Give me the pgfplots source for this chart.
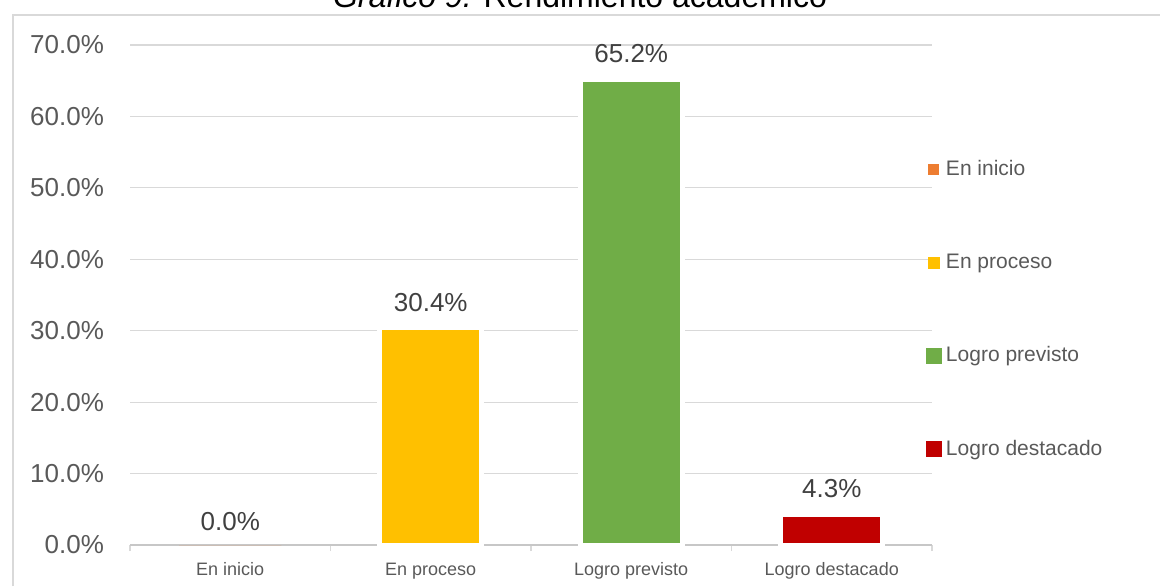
\documentclass[border=0pt]{standalone}
\usepackage{fontspec}
\setmainfont{Liberation Sans}
\usepackage{pgfplots}
\pgfplotsset{compat=1.18}
\definecolor{cOrange}{HTML}{ED7D31}
\definecolor{cYellow}{HTML}{FFC000}
\definecolor{cGreen}{HTML}{70AD47}
\definecolor{cRed}{HTML}{C00000}
\definecolor{tickc}{HTML}{595959}
\definecolor{labc}{HTML}{404040}
\definecolor{gridc}{HTML}{D9D9D9}
\begin{document}
\begin{tikzpicture}
\draw[gridc, line width=0.75pt] (6.5pt,0pt) -- (6.5pt,285.5pt) -- (580pt,285.5pt);
\node[anchor=base, font=\fontsize{16}{19}\selectfont, text=black] at (290pt,289.5pt) {\textit{Gráfico 9.} Rendimiento académico};
\begin{axis}[at={(65pt,20.5pt)}, anchor=south west, scale only axis,
  width=401pt, height=250pt,
  xmin=-0.5, xmax=3.5, ymin=0, ymax=70,
  axis x line=bottom, axis y line=left, axis line style={-},
  x axis line style={draw=gridc!80!gray, line width=0.6pt},
  y axis line style={draw=none},
  ymajorgrids, grid style={gridc, line width=0.6pt},
  ytick={0,10,...,70}, ytick style={draw=none},
  /pgf/number format/assume math mode=true,
  yticklabel={\pgfmathprintnumber[fixed,fixed zerofill,precision=1]{\tick}\%},
  yticklabel style={font=\fontsize{13}{15}\selectfont, text=tickc, xshift=-6.5pt},
  xtick={-0.5,0.5,1.5,2.5,3.5}, xticklabels={},
  xtick style={draw=gridc, line width=0.6pt},
  tick align=outside, major tick length=3pt,
  extra x ticks={0,1,2,3},
  extra x tick labels={En inicio, En proceso, Logro previsto, Logro destacado},
  extra x tick style={major tick length=0pt,
    xticklabel style={font=\fontsize{9}{11}\selectfont, text=tickc, yshift=-5pt,
      text height=6.8pt, text depth=1.9pt}},
  ybar, bar shift=0pt, bar width=0.51,
  nodes near coords={\pgfmathprintnumber[fixed,fixed zerofill,precision=1]{\pgfplotspointmeta}\%},
  nodes near coords style={font=\fontsize{13}{15}\selectfont, text=labc, yshift=3.7pt},
  legend style={at={(rel axis cs:0.992,0.778)}, anchor=north west, draw=none,
    fill=none, inner sep=0pt, row sep=33.6pt,
    font=\fontsize{10.5}{12.5}\selectfont, text=tickc},
  legend cell align=left,
]
\addplot[fill=cOrange, draw=none,
  legend image code/.code={\fill[cOrange] (0pt,-2.75pt) rectangle (5.5pt,2.75pt);}]
  coordinates {(0,0.0)};
\addlegendentry{En inicio}
\addplot[fill=cYellow, draw=white, line width=2.5pt,
  legend image code/.code={\fill[cYellow] (1pt,-1.75pt) rectangle (4.5pt,1.75pt);}]
  coordinates {(1,30.4)};
\addlegendentry{En proceso}
\addplot[fill=cGreen, draw=white, line width=2.5pt,
  legend image code/.code={\fill[cGreen] (0pt,-2.75pt) rectangle (5.5pt,2.75pt);}]
  coordinates {(2,65.2)};
\addlegendentry{Logro previsto}
\addplot[fill=cRed, draw=white, line width=2.5pt,
  legend image code/.code={\fill[cRed] (0pt,-2.75pt) rectangle (5.5pt,2.75pt);}]
  coordinates {(3,4.3)};
\addlegendentry{Logro destacado}
\end{axis}
\pgfresetboundingbox
\path[use as bounding box] (0pt,0pt) rectangle (580pt,293pt);
\end{tikzpicture}
\end{document}
